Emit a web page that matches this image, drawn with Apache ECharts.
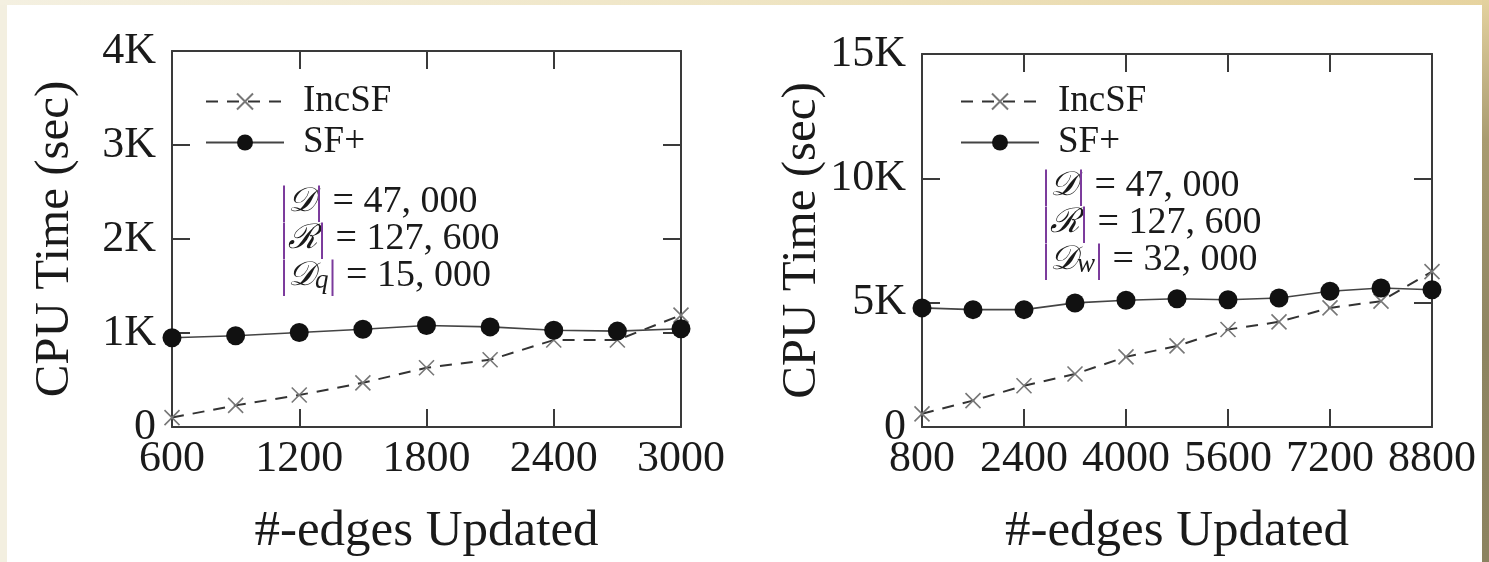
<!DOCTYPE html>
<html><head><meta charset="utf-8">
<script src="https://cdn.jsdelivr.net/npm/echarts@6/dist/echarts.min.js"></script>
<style>
html,body{margin:0;padding:0;}
#wrap{position:relative;width:1489px;height:562px;background:#efe6c6;overflow:hidden;}
#lstrip{position:absolute;left:0;top:0;width:7px;height:562px;background:#f3efe0;}
#tstrip{position:absolute;left:0;top:0;width:1489px;height:5px;background:linear-gradient(to right,#f4f0e1,#efe5c4 50%,#e6d39f);}
#rstrip{position:absolute;left:1482px;top:0;width:7px;height:562px;background:linear-gradient(to bottom,#e4d29f,#a89b70 25%,#8e8561 60%,#8c8360);}
#panel{position:absolute;left:7px;top:5px;width:1475px;height:557px;background:#ffffff;}
#chart{position:absolute;left:0;top:0;width:1489px;height:562px;}
</style></head>
<body>
<div id="wrap"><div id="lstrip"></div><div id="tstrip"></div><div id="rstrip"></div><div id="panel"></div><div id="chart"></div></div>
<script>
// ---- data ----
const leftX = [600, 900, 1200, 1500, 1800, 2100, 2400, 2700, 3000];
const leftIncSF = [100, 230, 340, 470, 630, 715, 925, 925, 1190];
const leftSFplus = [950, 970, 1005, 1040, 1080, 1065, 1030, 1020, 1045];
const rightX = [800, 1600, 2400, 3200, 4000, 4800, 5600, 6400, 7200, 8000, 8800];
const rightIncSF = [530, 1060, 1660, 2130, 2820, 3260, 3920, 4230, 4790, 5060, 6250];
const rightSFplus = [4790, 4720, 4720, 4990, 5100, 5160, 5120, 5190, 5460, 5590, 5520];
const leftYTicks = ['0', '1K', '2K', '3K', '4K'];
const rightYTicks = ['0', '5K', '10K', '15K'];
const leftXTicks = ['600', '1200', '1800', '2400', '3000'];
const rightXTicks = ['800', '2400', '4000', '5600', '7200', '8800'];
const seriesNames = ['IncSF', 'SF+'];
const yTitle = 'CPU Time (sec)';
const xTitle = '#-edges Updated';
const leftNote = ['{b||}{d|𝒟}{b||} = 47, 000', '{b||}{d|ℛ}{b||} = 127, 600', '{b||}{d|𝒟}{s|q}{b||} = 15, 000'];
const rightNote = ['{b||}{d|𝒟}{b||} = 47, 000', '{b||}{d|ℛ}{b||} = 127, 600', '{b||}{d|𝒟}{s|w}{b||} = 32, 000'];

const FONT = '"Liberation Serif", "DejaVu Serif", serif';
const AX = '#3a3a3a';
const chart = echarts.init(document.getElementById('chart'), null, {renderer: 'canvas'});

function mk(xs, ys) { return xs.map((x, i) => [x, ys[i]]); }
const axLine = {show: true, onZero: false, lineStyle: {color: AX, width: 2}};
const axTick = {show: true, inside: true, length: 18, lineStyle: {color: AX, width: 2}};

function xAxes(gi, min, max, interval, labels) {
  return [{
    type: 'value', gridIndex: gi, min: min, max: max, interval: interval, position: 'bottom',
    axisLine: axLine, axisTick: axTick, splitLine: {show: false},
    axisLabel: {show: true, margin: 10, color: '#1a1a1a', fontFamily: FONT, fontSize: 44,
      formatter: function (v) { return labels[Math.round((v - min) / interval)]; }},
    name: xTitle, nameLocation: 'middle', nameGap: 79,
    nameTextStyle: {color: '#1a1a1a', fontFamily: FONT, fontSize: 51}
  }, {
    type: 'value', gridIndex: gi, min: min, max: max, interval: interval, position: 'top',
    axisLine: axLine, axisTick: axTick, splitLine: {show: false}, axisLabel: {show: false}
  }];
}
function yAxes(gi, max, interval, labels) {
  return [{
    type: 'value', gridIndex: gi, min: 0, max: max, interval: interval, position: 'left',
    axisLine: axLine, axisTick: axTick, splitLine: {show: false},
    axisLabel: {show: true, margin: 16, color: '#1a1a1a', fontFamily: FONT, fontSize: 44,
      formatter: function (v) { return labels[Math.round(v / interval)]; }},
    name: yTitle, nameLocation: 'middle', nameGap: 92,
    nameTextStyle: {color: '#1a1a1a', fontFamily: FONT, fontSize: 49}
  }, {
    type: 'value', gridIndex: gi, min: 0, max: max, interval: interval, position: 'right',
    axisLine: axLine, axisTick: axTick, splitLine: {show: false}, axisLabel: {show: false}
  }];
}

const CROSS = 'path://M0,0L10,10M10,0L0,10';
function incSeries(xi, yi, data) {
  return {
    name: seriesNames[0], type: 'line', xAxisIndex: xi, yAxisIndex: yi, data: data,
    symbol: CROSS, symbolSize: 15,
    itemStyle: {color: '#777', borderColor: '#777', borderWidth: 1.6},
    lineStyle: {color: '#333', width: 2, type: [12, 9]},
    emphasis: {disabled: true}, z: 3
  };
}
function sfSeries(xi, yi, data) {
  return {
    name: seriesNames[1], type: 'line', xAxisIndex: xi, yAxisIndex: yi, data: data,
    symbol: 'circle', symbolSize: 19,
    itemStyle: {color: '#111', borderWidth: 0},
    lineStyle: {color: '#444', width: 1.6, type: 'solid'},
    emphasis: {disabled: true}, z: 4
  };
}
function legend(left, top) {
  return {
    data: seriesNames, orient: 'vertical', left: left, top: top, itemWidth: 78, itemHeight: 20, itemGap: 4,
    textStyle: {fontFamily: FONT, fontSize: 37, lineHeight: 36, color: '#1a1a1a', padding: [0, 0, 0, 14]},
    selectedMode: false
  };
}
const richStyles = {
  b: {fill: '#7b3a9c', fontFamily: FONT, fontSize: 40},
  d: {fill: '#1a1a1a', fontFamily: '"DejaVu Serif", serif', fontSize: 34, fontStyle: 'italic'},
  s: {fill: '#1a1a1a', fontFamily: FONT, fontSize: 27, fontStyle: 'italic', verticalAlign: 'bottom', lineHeight: 27}
};
function note(x, y, lines) {
  return {
    type: 'text', left: x, top: y, z: 10,
    style: {text: lines.join('\n'), fill: '#1a1a1a', font: '38px ' + FONT, lineHeight: 37, rich: richStyles}
  };
}

const xa = xAxes(0, 600, 3000, 600, leftXTicks).concat(xAxes(1, 800, 8800, 1600, rightXTicks));
const ya = yAxes(0, 4000, 1000, leftYTicks).concat(yAxes(1, 15000, 5000, rightYTicks));

chart.setOption({
  animation: false,
  grid: [
    {left: 172, top: 51, width: 509, height: 378, containLabel: false},
    {left: 922, top: 54, width: 510, height: 376, containLabel: false}
  ],
  xAxis: xa,
  yAxis: ya,
  legend: [legend(200, 78), legend(955, 78)],
  series: [
    incSeries(0, 0, mk(leftX, leftIncSF)),
    sfSeries(0, 0, mk(leftX, leftSFplus)),
    incSeries(2, 2, mk(rightX, rightIncSF)),
    sfSeries(2, 2, mk(rightX, rightSFplus))
  ],
  graphic: [note(280, 182, leftNote), note(1042, 166, rightNote)]
});
</script>
</body></html>
